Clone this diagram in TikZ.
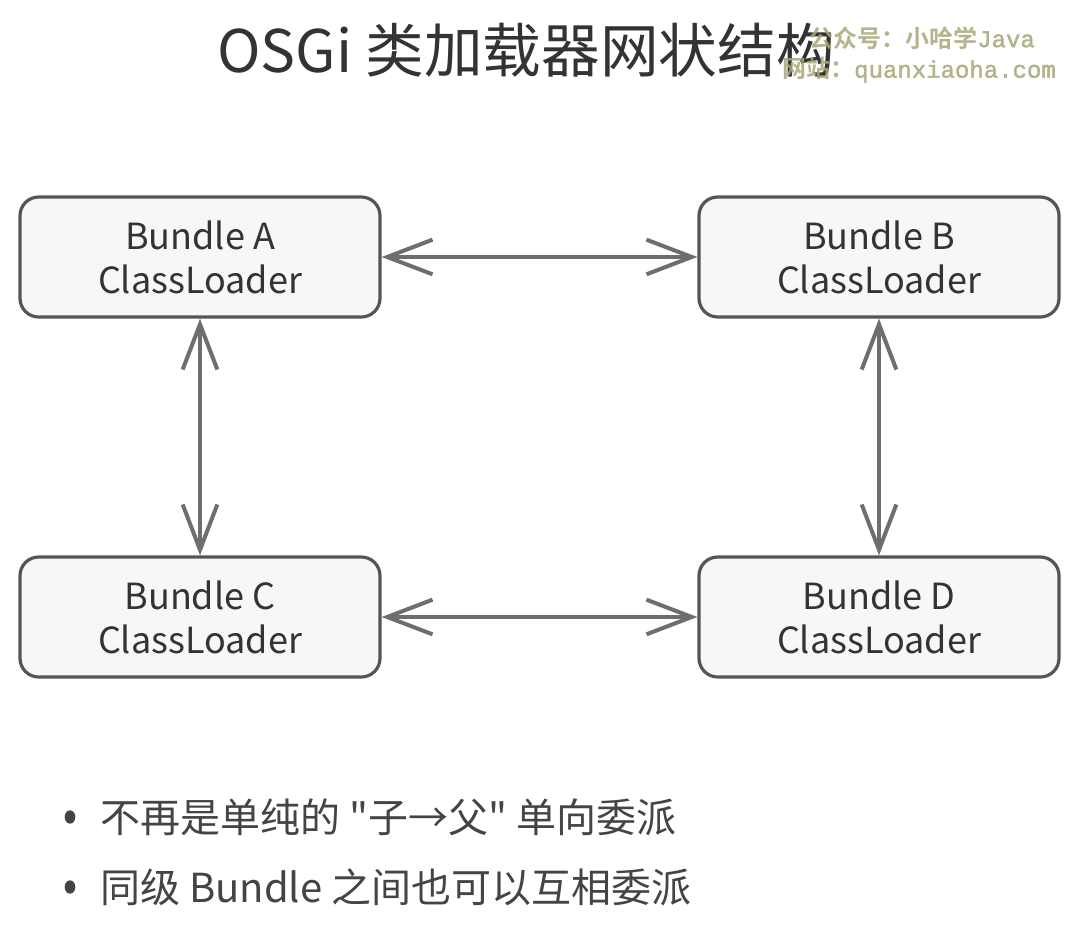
\documentclass[tikz,border=0pt]{standalone}
\usepackage{fontspec}
\setmainfont{Noto Sans CJK SC}[Ligatures=TeXOff]
\newfontfamily\wmmono{Liberation Mono}[FakeBold=1.5]
\newfontfamily\wmcjk{Noto Sans CJK SC Bold}
\usetikzlibrary{arrows.meta,shapes.geometric}
\definecolor{boxline}{HTML}{555555}
\definecolor{boxfill}{HTML}{F7F7F7}
\definecolor{arrowc}{HTML}{6E6E6E}
\definecolor{txt}{HTML}{333333}
\definecolor{bul}{HTML}{444444}
\definecolor{wm}{HTML}{A8A878}
\begin{document}
\begin{tikzpicture}[x=0.75pt,y=-0.75pt,
  loader/.style={draw=boxline, fill=boxfill, line width=2.4pt, rounded corners=14pt,
    minimum width=270pt, minimum height=90pt, align=center, text=txt,
    font=\fontsize{27}{33}\selectfont},
  link/.style={draw=arrowc, line width=3pt,
    {Straight Barb[length=34pt,width=26pt]}-{Straight Barb[length=34pt,width=26pt]}},
  bullettext/.style={anchor=west, text=bul, font=\fontsize{30}{34}\selectfont, inner sep=0pt},
  dot/.style={ellipse, fill=bul, inner sep=0pt, minimum width=8pt, minimum height=10pt},
  wmtext/.style={text=wm, opacity=0.85, inner sep=0pt, font=\fontsize{18}{22}\selectfont}]
\useasboundingbox[fill=white] (0,0) rectangle (1080,934);

\node[text=txt, font=\fontsize{44}{50}\selectfont] (title) at (526,50) {OSGi 类加载器网状结构};

\node[loader] (A) at (200,257) {Bundle A\\ClassLoader};
\node[loader] (B) at (879,257) {Bundle B\\ClassLoader};
\node[loader] (C) at (200,617) {Bundle C\\ClassLoader};
\node[loader] (D) at (879,617) {Bundle D\\ClassLoader};

\draw[link] (A.east) -- (B.west);
\draw[link] (C.east) -- (D.west);
\draw[link] (A.south) -- (C.north);
\draw[link] (B.south) -- (D.north);

\node[dot] (d1) at (70,817) {};
\node[bullettext] (l1) at (100,817) {不再是单纯的 "子→父" 单向委派};
\node[dot] (d2) at (70,887) {};
\node[bullettext] (l2) at (100,887) {同级 Bundle 之间也可以互相委派};

\node[wmtext] (wm1) at (922,38) {{\wmcjk 公众号：小哈学}{\wmmono Java}};
\node[wmtext] (wm2) at (919,70) {{\wmcjk 网站：}{\wmmono quanxiaoha.com}};
\end{tikzpicture}
\end{document}
